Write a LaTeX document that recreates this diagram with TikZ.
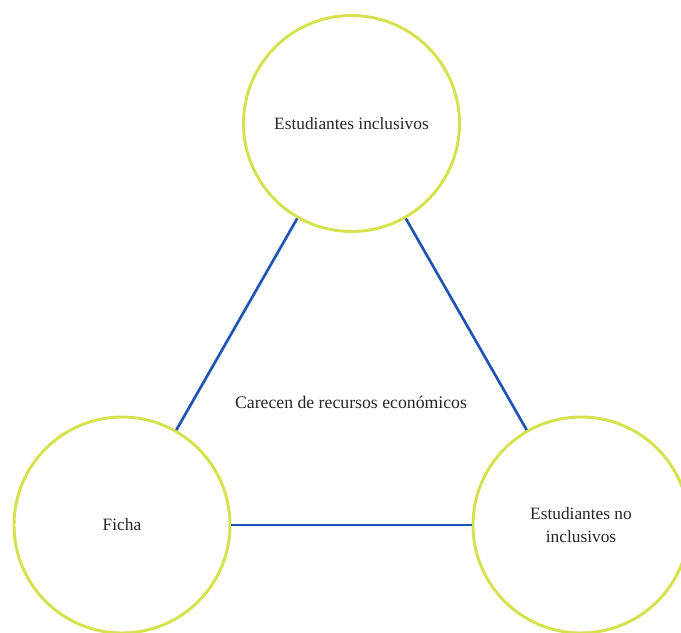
\documentclass[tikz,border=0pt]{standalone}
\usepackage{fontspec}
\setmainfont{Liberation Serif}
\definecolor{ringcol}{RGB}{214,225,78}
\definecolor{linkcol}{RGB}{30,84,182}
\begin{document}
\begin{tikzpicture}[x=0.75pt,y=-0.75pt,
  ring/.style={circle,draw=ringcol,line width=2.2pt,minimum size=162pt,inner sep=0pt,
    align=center,font=\fontsize{13}{17.5}\selectfont,text=black!85},
  link/.style={draw=linkcol,line width=2pt},
  lbl/.style={font=\fontsize{13.3}{17.5}\selectfont,text=black!85}]
  \useasboundingbox[fill=white] (0,0) rectangle (681,632);
  \node[ring] (inc) at (351.5,123.5) {Estudiantes inclusivos};
  \node[ring] (ficha) at (122,525) {Ficha};
  \node[ring] (noinc) at (581,525) {Estudiantes no\\inclusivos};
  \node[lbl] (mid) at (351,402) {Carecen de recursos económicos};
  \draw[link] (inc) -- (ficha);
  \draw[link] (inc) -- (noinc);
  \draw[link] (ficha) -- (noinc);
\end{tikzpicture}
\end{document}
